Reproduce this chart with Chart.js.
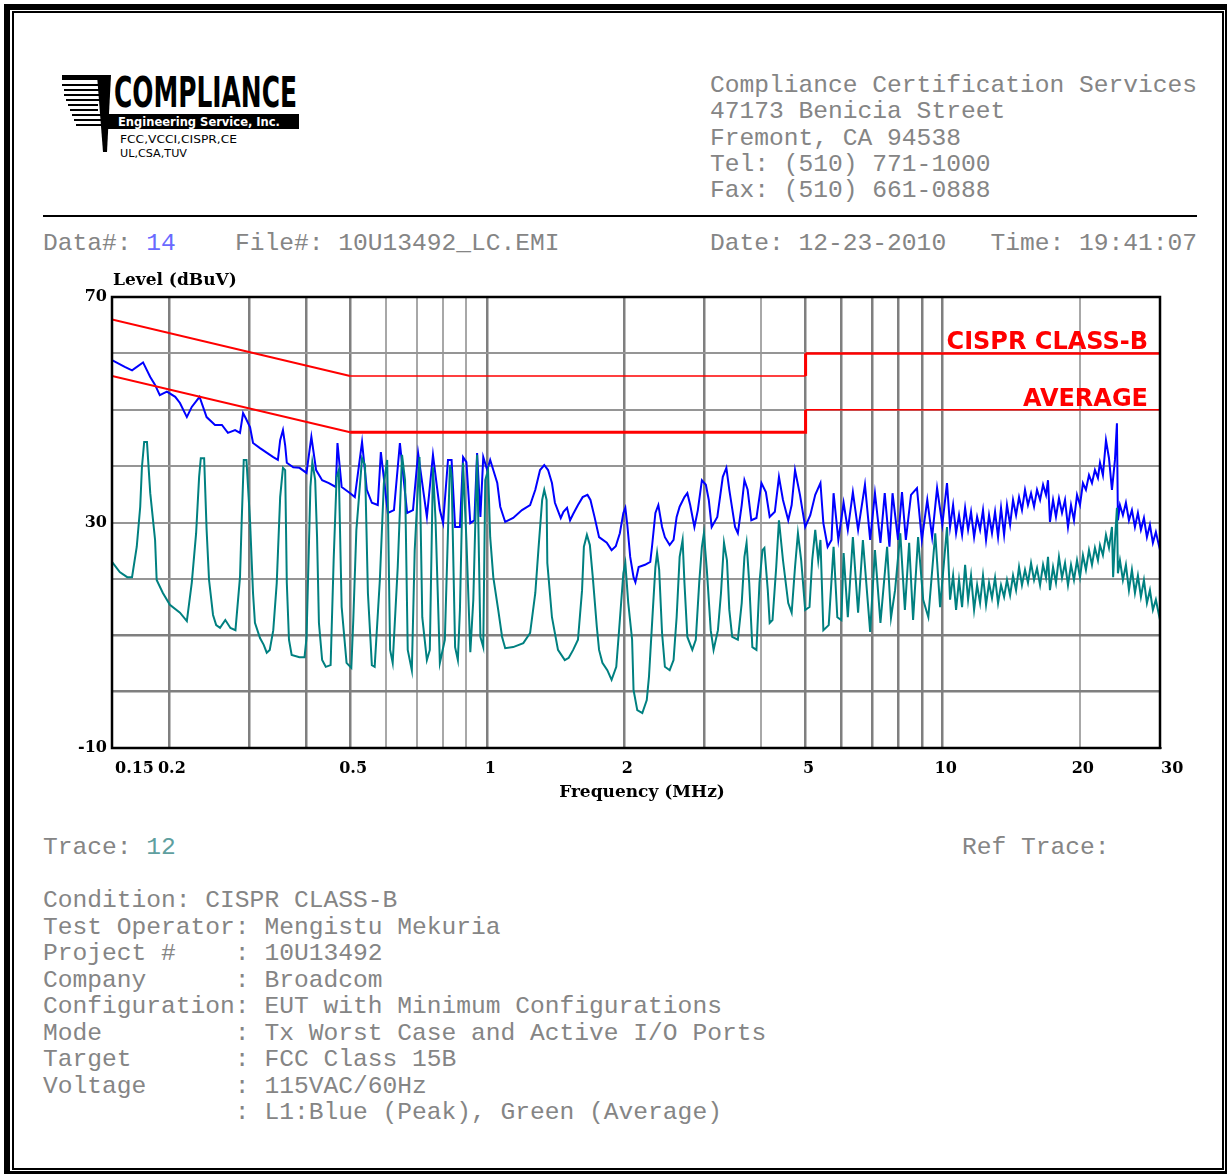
<!DOCTYPE html>
<html>
<head>
<meta charset="utf-8">
<script src="https://cdn.jsdelivr.net/npm/chart.js@4.4.0/dist/chart.umd.min.js"></script>
<style>
body{margin:0;width:1227px;height:1174px;position:relative;overflow:hidden;background:#fff}
.frameOut{position:absolute;left:4px;top:4px;width:1227px;height:1173px;border:6px solid #000;box-sizing:border-box}
.frameIn{position:absolute;left:12px;top:11px;width:1212px;height:1159px;border:2px solid #000;box-sizing:border-box}
.txt{position:absolute;white-space:pre;font-family:"Liberation Mono",monospace;font-size:24.6px;color:#858585;line-height:26.5px}
.rule{position:absolute;left:43px;top:215px;width:1154px;height:2px;background:#000}
#plot{position:absolute;left:0;top:250px}
</style>
</head>
<body>
<div class="frameOut"></div>
<div class="frameIn"></div>

<svg style="position:absolute;left:0;top:0" width="320" height="170">
  <rect x="62" y="75" width="46" height="5" fill="#000"/>
  <rect x="62" y="84" width="40" height="2" fill="#000"/>
  <rect x="64" y="89" width="37" height="2" fill="#000"/>
  <rect x="64" y="94" width="36" height="2" fill="#000"/>
  <rect x="66" y="99" width="33" height="2" fill="#000"/>
  <rect x="68" y="104" width="30" height="2" fill="#000"/>
  <rect x="70" y="109" width="28" height="2" fill="#000"/>
  <rect x="72" y="114" width="36" height="2" fill="#000"/>
  <rect x="74" y="119" width="34" height="2" fill="#000"/>
  <rect x="76" y="124" width="32" height="2" fill="#000"/>
  <polygon points="97,75 111,75 107,152 103,152" fill="#000"/>
  <text x="114" y="107" font-family="DejaVu Sans" font-weight="bold" font-size="42" textLength="183" lengthAdjust="spacingAndGlyphs">COMPLIANCE</text>
  <rect x="108" y="114" width="191" height="15" fill="#000"/>
  <text x="118" y="126" fill="#fff" font-family="DejaVu Sans" font-weight="bold" font-size="12" textLength="162" lengthAdjust="spacingAndGlyphs">Engineering Service, Inc.</text>
  <text x="120" y="143" font-family="DejaVu Sans" font-size="10" textLength="117" lengthAdjust="spacingAndGlyphs">FCC,VCCI,CISPR,CE</text>
  <text x="120" y="157" font-family="DejaVu Sans" font-size="10" textLength="67" lengthAdjust="spacingAndGlyphs">UL,CSA,TUV</text>
</svg>

<div class="txt" style="left:710px;top:73px;line-height:26.3px">Compliance Certification Services
47173 Benicia Street
Fremont, CA 94538
Tel: (510) 771-1000
Fax: (510) 661-0888</div>
<div class="rule"></div>
<div class="txt" style="left:43px;top:231px">Data#: <span style="color:#6a6aff">14</span>    File#: 10U13492_LC.EMI</div>
<div class="txt" style="left:710px;top:231px">Date: 12-23-2010   Time: 19:41:07</div>

<canvas id="plot" width="1227" height="580"></canvas>

<div class="txt" style="left:43px;top:835px">Trace: <span style="color:#5f9f9f">12</span></div>
<div class="txt" style="left:962px;top:835px">Ref Trace:</div>
<div class="txt" style="left:43px;top:888px">Condition: CISPR CLASS-B
Test Operator: Mengistu Mekuria
Project #    : 10U13492
Company      : Broadcom
Configuration: EUT with Minimum Configurations
Mode         : Tx Worst Case and Active I/O Ports
Target       : FCC Class 15B
Voltage      : 115VAC/60Hz
             : L1:Blue (Peak), Green (Average)</div>

<script>
// peak trace (blue), MHz / dBuV
const peakFreq = [
  0.15,0.16,0.166,0.1755,0.182,0.1865,0.191,0.198,0.2065,0.2115,
  0.219,0.2245,0.2335,0.242,0.2525,0.2615,0.2695,0.2795,0.2865,0.291,
  0.295,0.3015,0.306,0.317,0.329,0.339,0.347,0.351,0.356,0.36,
  0.363,0.375,0.387,0.401,0.411,0.421,0.434,0.449,0.465,0.469,
  0.479,0.50,0.512,0.531,0.544,0.558,0.575,0.584,0.605,0.624,
  0.643,0.667,0.687,0.705,0.737,0.76,0.787,0.80,0.82,0.835,
  0.85,0.871,0.885,0.90,0.918,0.937,0.95,0.966,0.98,1.0,
  1.015,1.031,1.052,1.068,1.095,1.14,1.192,1.242,1.275,1.306,
  1.334,1.36,1.387,1.408,1.45,1.47,1.497,1.52,1.544,1.582,
  1.62,1.66,1.685,1.72,1.76,1.83,1.875,1.915,1.955,1.99,
  2.01,2.03,2.06,2.095,2.115,2.15,2.22,2.28,2.3,2.34,
  2.375,2.42,2.455,2.515,2.565,2.605,2.645,2.71,2.75,2.79,
  2.85,2.9,2.96,3.02,3.065,3.11,3.2,3.29,3.35,3.4,
  3.5,3.55,3.62,3.67,3.73,3.8,3.9,4.0,4.09,4.17,
  4.28,4.37,4.46,4.58,4.66,4.74,4.86,4.99,5.12,5.25,
  5.39,5.47,5.59,5.7,5.76,5.9,6.06,6.19,6.35,6.52,
  6.75,6.93,7.1,7.3,7.46,7.64,7.76,7.98,8.14,8.3,
  8.52,8.78,9.0,9.25,9.48,9.72,9.98,
  10.22,10.38,10.54,10.70,10.86,11.03,11.20,11.37,11.54,11.72,
  11.90,12.08,12.26,12.45,12.64,12.83,13.03,13.23,13.43,13.64,
  13.84,14.06,14.27,14.49,14.71,14.93,15.16,15.39,15.63,15.87,
  16.11,16.36,16.61,16.86,17.03,17.20,17.47,17.73,18.00,18.28,
  18.56,18.84,19.13,19.42,19.72,20.02,20.32,20.63,20.95,21.27,
  21.59,21.92,22.15,22.48,22.83,23.18,23.53,23.89,24.13,24.25,
  24.50,24.87,25.25,25.64,26.03,26.43,26.83,27.24,27.66,28.08,
  28.51,28.94,29.38,30.0
]
const peakLevel = [
  58.8,57.6,57.0,58.4,55.8,54.4,52.6,53.2,52.3,51.2,
  48.7,50.5,52.3,48.7,47.3,47.3,45.9,46.4,45.9,49.4,
  48.5,46.9,44.1,43.2,42.3,41.6,41.1,44.6,46.4,43.7,
  40.6,39.8,39.7,38.8,45.2,39.3,37.5,37.0,36.3,44.1,
  36.3,35.2,34.5,44.3,35.8,33.5,33.1,42.5,31.7,32.2,
  44.1,31.7,32.2,42.3,31.0,42.0,32.2,29.9,41.1,41.1,
  29.2,29.2,41.6,40.7,29.9,30.4,42.3,31.0,41.6,39.3,
  41.1,39.3,37.0,32.8,30.1,30.8,32.2,33.1,35.8,39.3,
  40.2,39.3,37.0,33.5,30.8,31.9,32.6,30.4,31.5,33.1,
  34.5,34.9,34.0,31.0,27.4,26.4,25.1,25.8,28.1,31.7,
  32.6,29.6,23.9,20.3,19.4,22.1,22.5,23.0,25.7,31.7,
  33.1,29.2,27.4,26.0,26.9,31.0,32.8,34.5,35.2,33.1,
  29.2,32.2,37.5,36.7,34.0,29.2,31.0,38.1,39.7,35.8,
  29.2,28.1,33.1,37.5,35.8,30.4,30.8,37.0,35.4,31.0,
  31.9,38.1,34.0,30.4,33.1,39.3,34.9,29.2,31.3,34.9,
  37.0,29.9,25.7,26.9,35.2,26.9,33.5,28.7,35.4,28.7,
  36.7,26.9,35.2,26.4,35.2,25.7,35.2,26.9,35.4,26.9,
  34.9,36.1,26.9,34.0,27.4,36.1,29.6,
  37.0,29.2,33.1,28.1,31.3,27.8,32.6,28.7,31.9,27.4,
  31.0,28.7,32.2,26.9,31.3,28.1,31.9,27.4,32.6,27.8,
  33.1,29.6,34.0,31.3,34.5,32.2,35.8,33.1,35.2,32.8,
  35.8,34.0,36.7,34.9,37.5,30.1,34.0,31.0,34.3,31.7,
  34.0,29.2,33.1,30.4,34.9,33.1,37.0,35.8,38.4,37.0,
  39.3,37.9,40.6,38.4,44.6,41.4,35.8,41.1,47.6,30.4,
  33.1,31.3,33.5,30.4,32.2,29.2,31.7,28.7,30.8,27.4,
  29.6,26.4,28.3,25.1
]

// average trace (green)
const avgFreq = [
  0.15,0.156,0.162,0.166,0.17,0.173,0.1745,0.1765,0.179,0.182,
  0.1865,0.188,0.194,0.201,0.2115,0.219,0.2245,0.2295,0.233,0.235,
  0.239,0.242,0.245,0.25,0.254,0.259,0.266,0.273,0.28,0.2865,
  0.289,0.292,0.296,0.3015,0.306,0.309,0.317,0.323,0.328,0.333,
  0.339,0.345,0.351,0.356,0.36,0.363,0.367,0.372,0.387,0.397,
  0.401,0.405,0.409,0.413,0.419,0.423,0.427,0.434,0.442,0.453,
  0.46,0.467,0.472,0.479,0.491,0.503,0.508,0.516,0.531,0.539,
  0.547,0.558,0.566,0.581,0.593,0.603,0.612,0.62,0.636,0.65,
  0.66,0.669,0.683,0.693,0.71,0.72,0.737,0.748,0.76,0.77,
  0.787,0.807,0.828,0.835,0.85,0.862,0.871,0.885,0.90,0.918,
  0.932,0.95,0.966,0.98,0.99,1.004,1.015,1.031,1.057,1.078,
  1.095,1.14,1.2,1.242,1.275,1.295,1.32,1.334,1.35,1.355,
  1.387,1.43,1.48,1.51,1.544,1.582,1.615,1.63,1.655,1.68,
  1.705,1.74,1.76,1.79,1.835,1.875,1.92,1.955,1.99,2.01,
  2.04,2.08,2.095,2.135,2.19,2.24,2.265,2.31,2.34,2.36,
  2.385,2.42,2.455,2.515,2.565,2.605,2.645,2.685,2.71,2.75,
  2.82,2.87,2.92,2.96,2.99,3.035,3.095,3.14,3.21,3.26,
  3.31,3.36,3.4,3.45,3.55,3.62,3.67,3.71,3.76,3.82,
  3.9,3.96,4.02,4.06,4.13,4.17,4.23,4.31,4.37,4.46,
  4.58,4.66,4.74,4.81,4.89,4.99,5.1,5.17,5.25,5.33,
  5.39,5.47,5.62,5.76,5.87,5.99,6.06,6.19,6.35,6.52,
  6.68,6.93,7.1,7.3,7.55,7.7,7.86,8.07,8.26,8.44,
  8.61,8.83,9.06,9.3,9.63,9.87,
  10.22,10.38,10.54,10.70,10.86,11.03,11.20,11.37,11.54,11.72,
  11.90,12.08,12.26,12.45,12.64,12.83,13.03,13.23,13.43,13.64,
  13.84,14.06,14.27,14.49,14.71,14.93,15.16,15.39,15.63,15.87,
  16.11,16.36,16.61,16.86,17.03,17.20,17.47,17.73,18.00,18.28,
  18.56,18.84,19.13,19.42,19.72,20.02,20.32,20.63,20.95,21.27,
  21.59,21.92,22.15,22.48,22.83,23.18,23.53,23.67,23.89,24.13,
  24.25,24.50,24.87,25.25,25.64,26.03,26.43,26.83,27.24,27.66,
  28.08,28.51,28.94,29.38,30.0
]
const avgLevel = [
  23.0,21.2,20.3,20.3,25.7,32.8,39.8,44.3,44.3,35.2,
  26.9,19.8,17.5,15.4,14.0,12.5,19.3,28.1,38.1,41.4,
  41.4,28.7,19.8,13.6,11.8,11.3,12.7,11.3,10.9,20.3,
  30.4,41.1,41.1,30.1,17.5,12.2,9.5,8.3,6.9,7.4,
  10.9,19.3,34.5,39.7,39.3,19.3,9.2,6.5,6.1,6.1,
  9.5,22.8,36.3,40.7,37.5,27.4,12.2,5.6,4.4,4.7,
  23.3,38.1,39.3,15.0,5.1,4.2,12.7,28.7,41.4,40.2,
  17.5,4.7,4.4,19.8,37.0,41.1,7.4,5.1,22.1,42.0,
  37.5,7.4,3.8,25.1,41.6,13.2,5.6,7.4,39.8,30.4,
  5.1,9.2,40.2,38.4,7.9,5.6,14.5,40.6,26.9,7.0,
  16.3,42.0,9.7,7.9,37.5,39.3,27.4,20.3,14.5,9.7,
  7.7,7.9,8.6,10.4,17.5,25.1,34.0,35.8,34.0,22.8,
  13.2,7.4,5.6,6.0,7.4,9.2,18.0,25.7,27.8,26.0,
  20.3,11.5,7.4,5.1,3.8,2.1,4.4,12.7,21.0,22.8,
  15.7,9.2,0.3,-3.3,-3.8,-1.5,2.6,14.5,22.1,24.6,
  21.6,10.4,4.4,3.8,5.6,13.2,23.9,26.9,19.3,9.7,
  7.4,9.2,19.3,25.7,28.1,21.6,10.9,7.4,10.9,17.5,
  26.4,23.3,14.5,9.7,9.2,15.7,23.9,26.4,19.3,7.9,
  7.4,19.3,25.1,25.5,18.0,12.2,12.7,22.1,30.4,23.3,
  15.7,14.0,22.1,28.1,23.3,14.5,15.0,23.3,28.7,23.3,
  26.9,10.9,11.8,25.7,13.2,12.7,24.6,13.2,27.4,14.0,
  26.9,10.6,25.1,12.2,25.7,13.1,18.0,28.1,14.5,26.4,
  12.7,27.4,16.3,13.2,28.1,15.0,
  29.2,16.3,20.6,14.5,19.8,15.0,22.5,16.3,20.6,14.5,
  18.9,15.7,20.6,15.4,19.3,16.6,20.2,15.7,18.9,16.8,
  19.8,17.1,20.6,18.0,22.1,18.9,21.6,19.3,22.8,19.8,
  21.9,18.9,22.5,20.2,23.9,18.0,22.1,19.3,23.9,20.2,
  22.8,18.9,22.5,19.8,23.3,20.3,24.2,21.6,25.1,22.5,
  25.5,23.3,26.0,24.2,27.8,25.5,29.2,20.3,26.9,32.6,
  21.0,23.3,19.8,22.5,18.0,21.6,17.5,20.6,16.8,19.8,
  15.7,18.0,14.5,16.3,12.7
]

// limit lines
const qpLimitFreq = [0.15, 0.5, 5, 5, 30]
const qpLimitLevel = [66, 56, 56, 60, 60]
const qpLimitWidth = [2, 1.5, 3, 2.5]
const avLimitFreq = [0.15, 0.5, 5, 5, 30]
const avLimitLevel = [56, 46, 46, 50, 50]
const avLimitWidth = [2, 3, 3, 1.5]

// axes
const gridFreqs = [0.2,0.3,0.4,0.5,0.6,0.7,0.8,0.9,1,2,3,4,5,6,7,8,9,10,20]
const lightGridFreqs = [0.6,0.7,0.8,0.9,4,20]
const labelFreqs = [0.15,0.2,0.5,1,2,5,10,20,30]
const labelTexts = ['0.15','0.2','0.5','1','2','5','10','20','30']
const levelLabels = [70,30,-10]

function pontos(freqs, levels){
  return freqs.map((f, i) => ({x: f, y: levels[i]}))
}

// titulos, rotulos do eixo x e moldura
const anotacoes = {
  id: 'anotacoes',
  afterDraw(chart){
    const {ctx, chartArea: a, scales: {x, y}} = chart
    ctx.save()
    ctx.strokeStyle = '#000'
    ctx.lineWidth = 2.5
    ctx.strokeRect(a.left, a.top, a.right - a.left, a.bottom - a.top)

    ctx.fillStyle = '#000'
    ctx.textBaseline = 'middle'
    ctx.font = 'bold 17px "DejaVu Serif"'
    ctx.textAlign = 'left'
    ctx.fillText('Level (dBuV)', a.left + 1, a.top - 16)
    ctx.textAlign = 'center'
    ctx.fillText('Frequency (MHz)', (a.left + a.right) / 2 + 6, a.bottom + 45)

    ctx.font = 'bold 16px "DejaVu Serif"'
    labelFreqs.forEach((f, i) => {
      const px = x.getPixelForValue(f)
      if(i == 0){
        ctx.textAlign = 'left'
        ctx.fillText(labelTexts[i], px + 3, a.bottom + 21)
      }else if(i == labelFreqs.length - 1){
        ctx.textAlign = 'left'
        ctx.fillText(labelTexts[i], px + 1, a.bottom + 21)
      }else{
        ctx.textAlign = 'center'
        ctx.fillText(labelTexts[i], px + 3, a.bottom + 21)
      }
    })

    ctx.fillStyle = '#ff0000'
    ctx.font = 'bold 24px "DejaVu Sans"'
    ctx.textAlign = 'right'
    ctx.textBaseline = 'alphabetic'
    ctx.fillText('CISPR CLASS-B', a.right - 12, y.getPixelForValue(qpLimitLevel[4]) - 4)
    ctx.fillText('AVERAGE', a.right - 12, y.getPixelForValue(avLimitLevel[4]) - 4)
    ctx.restore()
  }
}

new Chart(document.getElementById('plot'), {
  type: 'line',
  data: {
    datasets: [
      {
        label: 'CISPR CLASS-B',
        data: pontos(qpLimitFreq, qpLimitLevel),
        borderColor: '#ff0000',
        segment: {borderWidth: c => qpLimitWidth[c.p0DataIndex]},
        order: 0
      },
      {
        label: 'AVERAGE',
        data: pontos(avLimitFreq, avLimitLevel),
        borderColor: '#ff0000',
        segment: {borderWidth: c => avLimitWidth[c.p0DataIndex]},
        order: 0
      },
      {
        label: 'Average',
        data: pontos(avgFreq, avgLevel),
        borderColor: '#008080',
        borderWidth: 2,
        order: 1
      },
      {
        label: 'Peak',
        data: pontos(peakFreq, peakLevel),
        borderColor: '#0000ff',
        borderWidth: 2,
        order: 2
      }
    ]
  },
  options: {
    responsive: false,
    animation: false,
    layout: {padding: {top: 47, right: 67, left: 0, bottom: 0}},
    elements: {point: {radius: 0}, line: {tension: 0, borderJoinStyle: 'miter'}},
    plugins: {legend: {display: false}, tooltip: {enabled: false}},
    scales: {
      x: {
        type: 'logarithmic',
        min: 0.15,
        max: 30,
        afterBuildTicks: s => { s.ticks = gridFreqs.map(v => ({value: v})) },
        afterFit: s => { s.height = 82 },
        ticks: {display: false},
        grid: {
          drawTicks: false,
          color: c => lightGridFreqs.includes(c.tick && c.tick.value) ? '#a8a8a8' : '#7f7f7f',
          lineWidth: c => lightGridFreqs.includes(c.tick && c.tick.value) ? 2 : 2.5
        },
        border: {color: '#000', width: 2}
      },
      y: {
        min: -10,
        max: 70,
        afterFit: s => { s.width = 112 },
        ticks: {
          stepSize: 10,
          autoSkip: false,
          padding: 5,
          color: '#000',
          font: {family: 'DejaVu Serif', weight: 'bold', size: 16},
          callback: v => levelLabels.includes(v) ? String(v) : ''
        },
        grid: {
          drawTicks: false,
          color: c => (c.tick && (c.tick.value == 10 || c.tick.value == 0)) ? '#7f7f7f' : '#959595',
          lineWidth: c => (c.tick && (c.tick.value == 10 || c.tick.value == 0)) ? 2.5 : 2
        },
        border: {color: '#000', width: 2}
      }
    }
  },
  plugins: [anotacoes]
})
</script>
</body>
</html>
